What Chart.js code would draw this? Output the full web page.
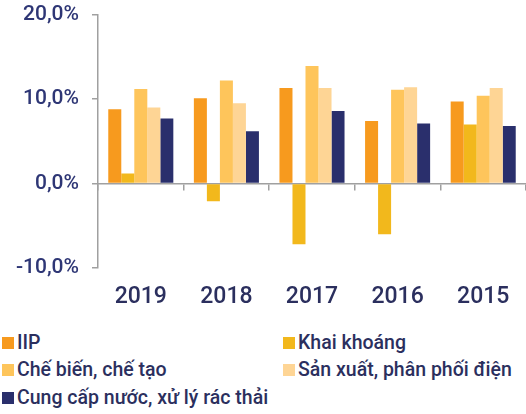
<!DOCTYPE html>
<html>
<head>
<meta charset="utf-8">
<script src="https://cdn.jsdelivr.net/npm/chart.js@4/dist/chart.umd.min.js"></script>
<style>
  html, body { margin: 0; padding: 0; background: #fff; }
  body { width: 526px; height: 414px; position: relative; overflow: hidden; font-family: Roboto, "Noto Sans", sans-serif; }
  #wrap { position: absolute; left: 0; top: -11px; width: 526px; height: 331px; }
  #legend { position: absolute; left: 0; top: 334px; width: 526px; }
  .item { position: absolute; display: flex; align-items: center; font-size: 19.5px; font-weight: 500; color: #2B2F5E; white-space: nowrap; line-height: 22px; }
  .box { width: 12px; height: 12px; margin-right: 3px; }
</style>
</head>
<body>
<div id="wrap"><canvas id="c"></canvas></div>
<div id="legend"></div>
<script>
const categories = ["2019", "2018", "2017", "2016", "2015"];
const seriesNames = ["IIP", "Khai khoáng", "Chế biến, chế tạo", "Sản xuất, phân phối điện", "Cung cấp nước, xử lý rác thải"];
const iip        = [8.8, 10.1, 11.3, 7.4, 9.7];
const khaiKhoang = [1.2, -2.1, -7.2, -6.0, 7.0];
const cheBien    = [11.2, 12.2, 13.9, 11.1, 10.4];
const sanXuat    = [9.0, 9.5, 11.3, 11.4, 11.3];
const cungCap    = [7.7, 6.2, 8.6, 7.1, 6.8];
const yTicks     = [-10, 0, 10, 20];
const colors     = ["#F79A1E", "#F2B81C", "#FEC55B", "#FED595", "#2A2F6C"];

const series = [iip, khaiKhoang, cheBien, sanXuat, cungCap];

const datasets = series.map((d, i) => ({
  label: seriesNames[i],
  data: d,
  backgroundColor: colors[i],
  borderWidth: 0,
  xAxisID: 'x',
  categoryPercentage: 0.76,
  barPercentage: 1.0
}));

const fmt = v => v.toFixed(1).replace('.', ',') + '%';

new Chart(document.getElementById('c'), {
  type: 'bar',
  data: { labels: categories, datasets },
  options: {
    responsive: true,
    maintainAspectRatio: false,
    animation: false,
    layout: { padding: { top: 4, right: 0, left: 0, bottom: 0 } },
    plugins: { legend: { display: false }, tooltip: { enabled: false } },
    scales: {
      y: {
        min: -10, max: 20,
        afterFit: s => { s.width = 98; },
        afterBuildTicks: s => { s.ticks = yTicks.map(v => ({ value: v })); },
        ticks: {
          callback: v => fmt(v),
          color: '#2E3675',
          font: { family: 'Roboto', size: 21, weight: 500 },
          padding: 13
        },
        grid: { drawOnChartArea: false, drawTicks: true, tickLength: 6, color: '#A0A0A0', lineWidth: 1.5 },
        border: { display: true, color: '#A0A0A0', width: 1.5 }
      },
      x: {
        type: 'category',
        position: { y: 0 },
        offset: true,
        afterFit: s => { s.height = 0; },
        ticks: { display: false },
        grid: { offset: true, drawOnChartArea: false, drawTicks: true, tickLength: 6, color: '#A0A0A0', lineWidth: 1.5 },
        border: { display: true, color: '#A0A0A0', width: 1.5 }
      },
      x2: {
        type: 'category',
        position: 'bottom',
        labels: categories,
        offset: true,
        afterFit: s => { s.height = 52; },
        grid: { display: false, drawTicks: false },
        border: { display: false },
        ticks: {
          color: '#2B2F5E',
          font: { family: 'Roboto', size: 23, weight: 500 },
          padding: 15,
          maxRotation: 0
        }
      }
    }
  }
});

// HTML legend built from series arrays
const legend = document.getElementById('legend');
const pos = [[2, 0], [283, 0], [2, 27], [283, 27], [2, 55]];
seriesNames.forEach((name, i) => {
  const el = document.createElement('div');
  el.className = 'item';
  el.style.left = pos[i][0] + 'px';
  el.style.top = (pos[i][1] - 2) + 'px';
  el.innerHTML = '<span class="box" style="background:' + colors[i] + '"></span><span>' + name + '</span>';
  legend.appendChild(el);
});
</script>
</body>
</html>
